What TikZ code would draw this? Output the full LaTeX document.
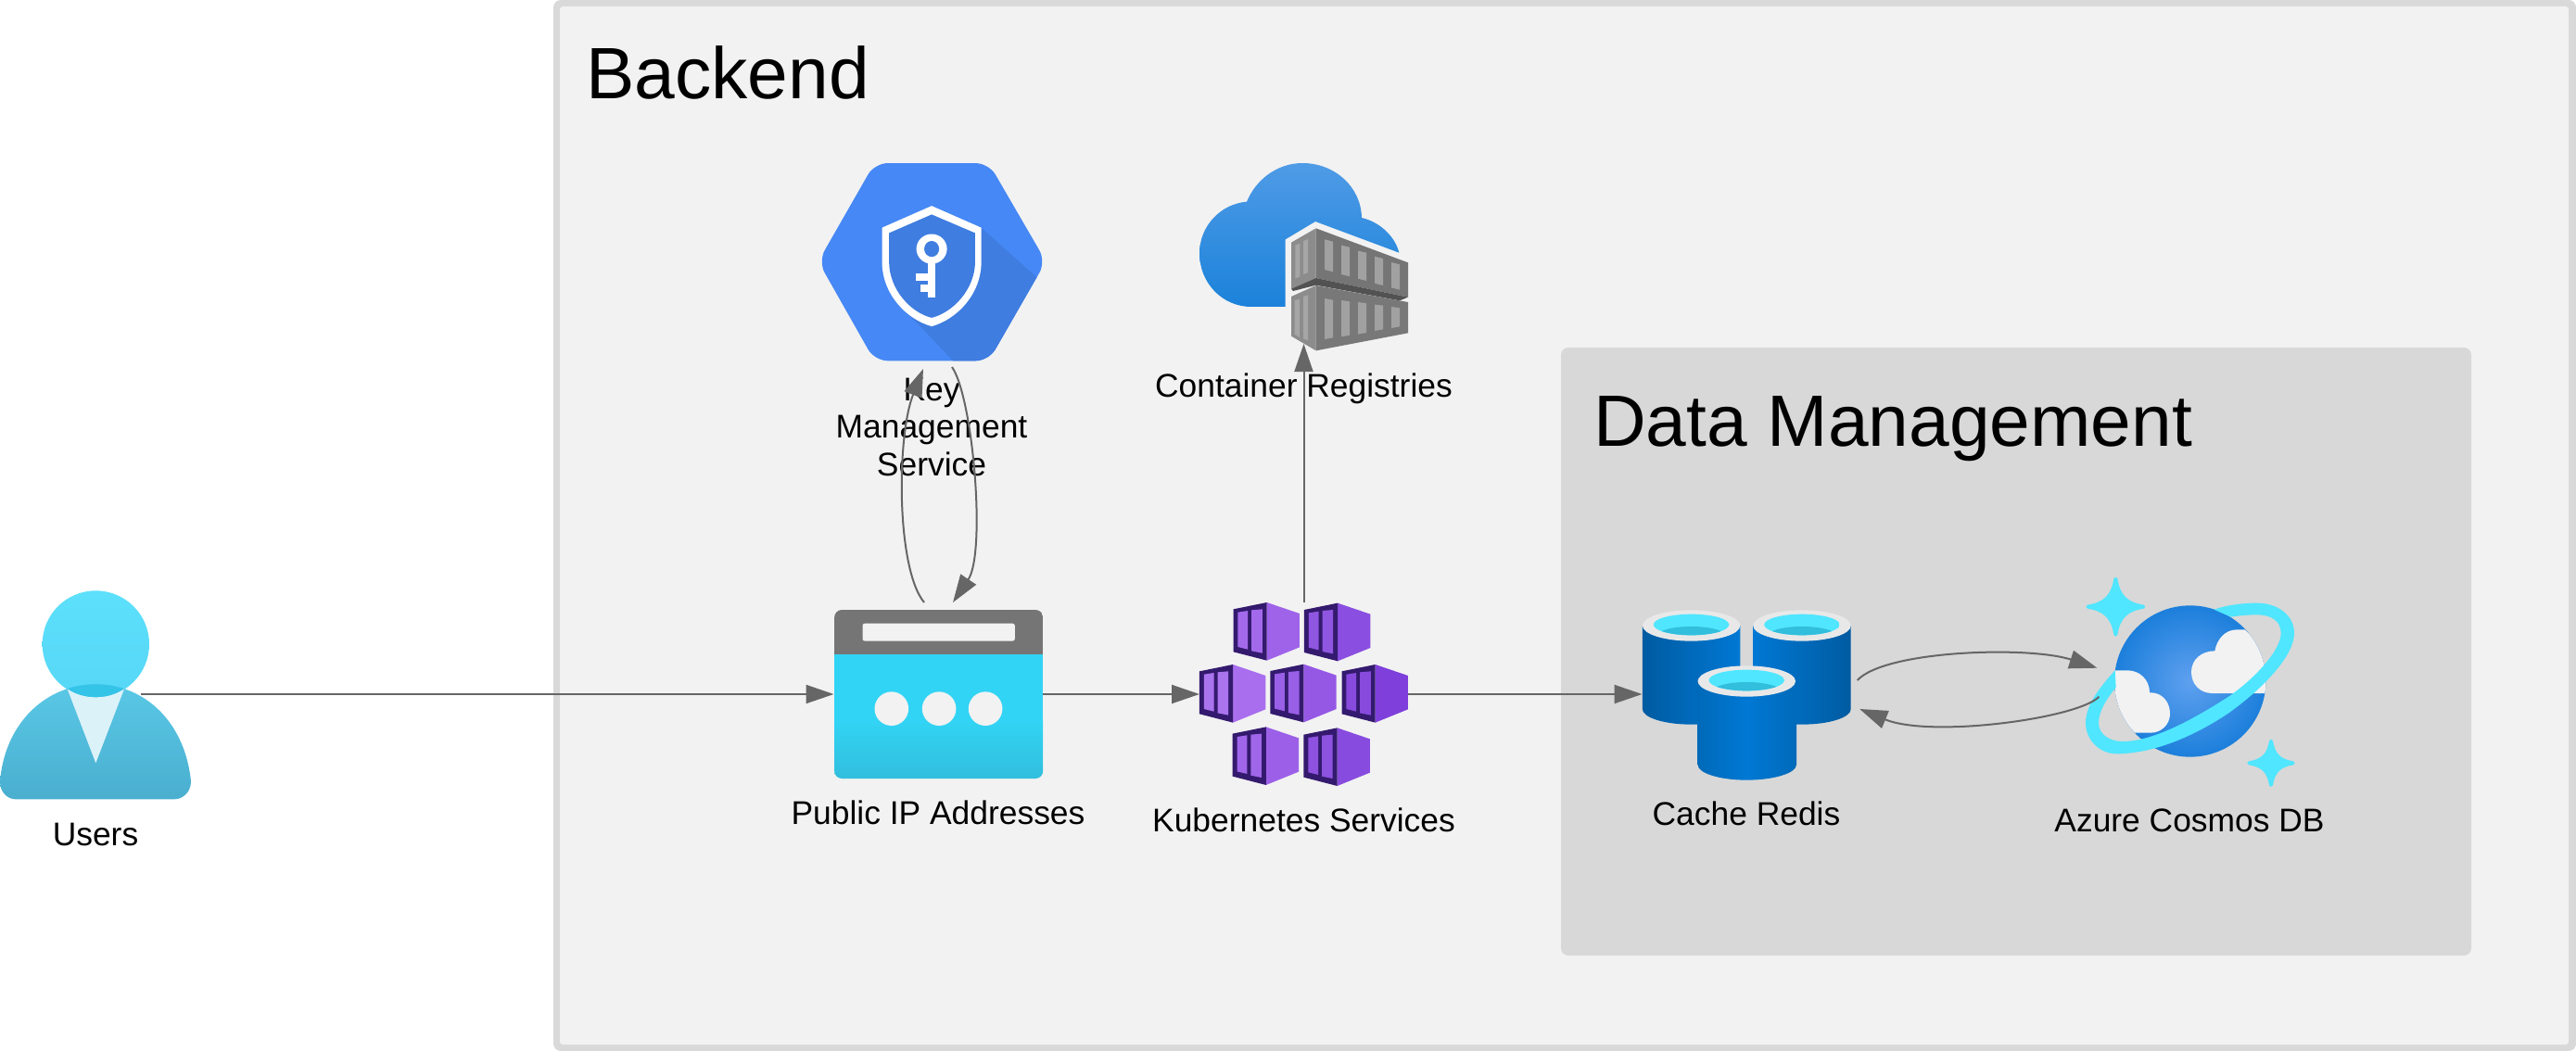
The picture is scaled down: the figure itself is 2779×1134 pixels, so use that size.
\documentclass[tikz,border=0pt]{standalone}
\usepackage{fontspec}
\setmainfont{Liberation Sans}
\usetikzlibrary{arrows.meta}
\definecolor{framegrey}{HTML}{D9D9D9}
\definecolor{panel}{HTML}{F2F2F2}
\definecolor{databox}{HTML}{D8D8D8}
\definecolor{conn}{HTML}{666666}
\definecolor{kmsblue}{HTML}{4688F5}
\definecolor{kmsdark}{HTML}{3F7DE0}
\definecolor{cubedark}{HTML}{341A6E}
\definecolor{cyanlight}{HTML}{50E6FF}
\definecolor{cyandark}{HTML}{32BEDD}
\definecolor{ipcyan}{HTML}{32D4F5}
\definecolor{headtop}{HTML}{5CE0FB}
\definecolor{headbot}{HTML}{56D7F6}
\definecolor{bodytop}{HTML}{5AC8E6}
\definecolor{bodybot}{HTML}{4AAECF}
\definecolor{lens}{HTML}{33C4E8}
\definecolor{tiecol}{HTML}{DCF2F9}
\definecolor{cloudtop}{HTML}{4F9BE6}
\definecolor{cloudbot}{HTML}{1B82DA}
\definecolor{spheremid}{HTML}{5FA0EF}
\definecolor{sphereout}{HTML}{1C7FDB}
\definecolor{redisblue}{HTML}{0078D4}
\definecolor{redisdark}{HTML}{005BA1}
\definecolor{redismid}{HTML}{006AB9}
\definecolor{ringtop}{HTML}{E8E8E8}
\tikzset{
  x=1pt,y=-1pt,
  zoomA/.style={x=0.44643pt,y=-0.35714pt,xshift=860pt,yshift=-150pt},
  zoomB/.style={x=0.44643pt,y=-0.33333pt,xshift=860pt,yshift=-620pt},
  zoomC/.style={x=0.49751pt,y=-0.33333pt,xshift=1740pt,yshift=-600pt},
  zoomU/.style={x=0.33333pt,y=-0.33333pt,xshift=0pt,yshift=-620pt},
  zoomR/.style={x=0.33333pt,y=-0.33333pt,xshift=1270pt,yshift=-170pt},
  zoomK/.style={x=0.33333pt,y=-0.33333pt,xshift=2240pt,yshift=-610pt},
  iconbox/.style={inner sep=0pt,outer sep=0pt,minimum width=#1},
  label/.style={font=\fontsize{35.4}{40.5}\selectfont,text=black,align=center,inner sep=0pt,anchor=base},
  title/.style={font=\fontsize{78.5}{90}\selectfont,text=black,inner sep=0pt,anchor=base west},
  link/.style={draw=conn,line width=2pt,-{Triangle[length=30pt,width=20pt,fill=conn]}},
}
\newcommand{\kcube}[4]{%
  \begin{scope}[shift={(#1,#2)}]
    \fill[#3] (81,0) -- (160,36) -- (160,145) -- (81,188) -- cycle;
    \fill[cubedark] (0,22) -- (81,0) -- (81,188) -- (0,160) -- cycle;
    \fill[#4] (11,32) -- (35,27) -- (35,152) -- (11,144) -- cycle;
    \fill[#4] (44,25) -- (70,22) -- (70,164) -- (44,157) -- cycle;
  \end{scope}}
\newcommand{\rcyl}[4]{%
  \shade[left color=#3,right color=#4]
    (#1-106,225+#2) -- (#1-106,495+#2) .. controls (#1-106,523+#2) and (#1-58,545+#2) .. (#1,545+#2)
    .. controls (#1+58,545+#2) and (#1+106,523+#2) .. (#1+106,495+#2) -- (#1+106,225+#2) -- cycle;
}
\newcommand{\rtop}[2]{%
  \fill[ringtop] (#1,#2) ellipse [x radius=106,y radius=50];
  \begin{scope}
    \clip (#1,#2-3) ellipse [x radius=82,y radius=34];
    \fill[cyanlight] (#1,#2-3) ellipse [x radius=82,y radius=34];
    \fill[cyandark] (#1,#2+37) ellipse [x radius=78,y radius=34];
  \end{scope}}
\newcommand{\sparkle}[4]{%
  \filldraw[fill=cyanlight,draw=cyanlight,line width=4pt,line join=round]
    ({#1},{#2-#4}) .. controls ({#1+.10*#3},{#2-.38*#4}) and ({#1+.38*#3},{#2-.10*#4}) .. ({#1+#3},{#2})
    .. controls ({#1+.38*#3},{#2+.10*#4}) and ({#1+.10*#3},{#2+.38*#4}) .. ({#1},{#2+#4})
    .. controls ({#1-.10*#3},{#2+.38*#4}) and ({#1-.38*#3},{#2+.10*#4}) .. ({#1-#3},{#2})
    .. controls ({#1-.38*#3},{#2-.10*#4}) and ({#1-.10*#3},{#2-.38*#4}) .. cycle;
}
\begin{document}
\begin{tikzpicture}
\useasboundingbox (0,0) rectangle (2779,1134);
\fill[white] (0,0) rectangle (2779,1134);
% frames
\fill[framegrey,rounded corners=8pt] (597,0) rectangle (2779,1134);
\fill[panel,rounded corners=3pt] (604,7) rectangle (2771,1127);
\fill[databox,rounded corners=8pt] (1684,375) rectangle (2666,1031);
\node[title] (backendTitle) at (632,106.7) {Backend};
\node[title] (dataTitle) at (1719,481.7) {Data Management};

% named boxes of the icons
\node[iconbox=206pt,minimum height=225pt] (users) at (103,749.5) {};
\node[iconbox=225pt,minimum height=182pt] (ip) at (1012,749) {};
\node[iconbox=225pt,minimum height=198pt] (k8s) at (1406.5,749) {};
\node[iconbox=225pt,minimum height=195pt] (acr) at (1406.5,273.5) {};
\node[iconbox=225pt,minimum height=184pt] (redis) at (1884,749) {};
\node[iconbox=225pt,minimum height=220pt] (cosmos) at (2362,731) {};
\node[iconbox=240pt,minimum height=216pt] (kms) at (1005,315) {};

% Users icon
\begin{scope}[zoomU]
  \def\bodypath{(0,670) .. controls (15,480) and (150,355) .. (310,355) .. controls (470,355) and (600,480) .. (618,670) .. controls (618,705) and (590,727) .. (565,727) -- (50,727) .. controls (25,727) and (0,705) .. (0,670) -- cycle}
  \shade[top color=headtop,bottom color=headbot] (310,225) circle [radius=173];
  \shade[top color=bodytop,bottom color=bodybot] \bodypath;
  \begin{scope}
    \clip \bodypath;
    \fill[lens] (310,225) circle [radius=173];
    \fill[tiecol] (218,370) .. controls (245,388) and (275,397) .. (310,397) .. controls (345,397) and (375,388) .. (402,370) -- (310,610) -- cycle;
  \end{scope}
\end{scope}

% Key Management Service icon
\begin{scope}[zoomA]
  \def\hexpath{(187,73) -- (463,73) -- (601,370) -- (463,670) -- (187,670) -- (51,370) -- cycle}
  \fill[kmsblue,rounded corners=14pt] \hexpath;
  \begin{scope}
    \clip[rounded corners=14pt] \hexpath;
    \fill[kmsdark] (445,268) -- (590,430) -- (640,800) -- (430,740) -- (270,530) -- (205,400) -- cycle;
  \end{scope}
  \fill[white] (325,202) -- (445,268) -- (445,370) .. controls (445,470) and (385,545) .. (325,566)
     .. controls (265,545) and (205,470) .. (205,370) -- (205,268) -- cycle;
  \fill[kmsdark] (325,228) -- (430,284) -- (430,370) .. controls (430,455) and (375,525) .. (325,540)
     .. controls (275,525) and (222,455) .. (222,370) -- (222,284) -- cycle;
  \fill[white] (325,332) ellipse [x radius=37,y radius=45];
  \fill[kmsdark] (325,332) ellipse [x radius=18,y radius=24];
  \fill[white] (316,370) rectangle (334,480);
  \fill[white] (287,405) rectangle (316,427);
  \fill[white] (298,440) rectangle (316,462);
\end{scope}

% Container Registries icon
\begin{scope}[zoomR]
  \shade[top color=cloudtop,bottom color=cloudbot]
    (350,483) -- (240,483) .. controls (145,483) and (72,405) .. (72,310) .. controls (72,222) and (140,150) .. (225,143)
    .. controls (255,70) and (325,18) .. (405,18) .. controls (510,18) and (595,95) .. (597,195)
    .. controls (655,208) and (705,255) .. (718,308) -- (447,207) -- (350,265) -- cycle;
  % upper container
  \fill[white!55!black] (369,275) -- (449,229) -- (449,390) -- (369,425) -- cycle;
  \fill[white!46!black] (449,229) -- (747,340) -- (747,452) -- (449,390) -- cycle;
  \fill[white!65!black] (382,283) -- (397,279) -- (397,385) -- (382,392) -- cycle;
  \fill[white!65!black] (408,270) -- (423,264) -- (423,372) -- (408,378) -- cycle;
  \fill[white!63!black] (477,265) -- (504,272) -- (504,370) -- (477,363) -- cycle;
  \fill[white!63!black] (531,284) -- (558,290) -- (558,385) -- (531,378) -- cycle;
  \fill[white!63!black] (585,302) -- (612,308) -- (612,399) -- (585,392) -- cycle;
  \fill[white!63!black] (639,320) -- (666,327) -- (666,414) -- (639,407) -- cycle;
  \fill[white!63!black] (693,339) -- (720,346) -- (720,428) -- (693,421) -- cycle;
  \fill[white!32!black] (369,425) -- (449,390) -- (747,452) -- (720,463) -- (449,413) -- (375,432) -- cycle;
  % lower container
  \fill[white!55!black] (369,450) -- (449,414) -- (449,625) -- (369,578) -- cycle;
  \fill[white!47!black] (449,414) -- (747,468) -- (747,568) -- (449,625) -- cycle;
  \fill[white!65!black] (380,462) -- (396,458) -- (396,582) -- (380,572) -- cycle;
  \fill[white!65!black] (408,450) -- (423,445) -- (423,592) -- (408,586) -- cycle;
  \fill[white!63!black] (477,456) -- (504,461) -- (504,583) -- (477,588) -- cycle;
  \fill[white!63!black] (531,462) -- (558,466) -- (558,575) -- (531,580) -- cycle;
  \fill[white!63!black] (585,468) -- (612,472) -- (612,567) -- (585,572) -- cycle;
  \fill[white!63!black] (639,476) -- (666,479) -- (666,556) -- (639,561) -- cycle;
  \fill[white!63!black] (693,483) -- (720,487) -- (720,547) -- (693,552) -- cycle;
\end{scope}

% Public IP icon
\begin{scope}[zoomB]
  \begin{scope}
    \clip[rounded corners=8pt] (90,114) rectangle (594,660);
    \fill[white!46!black] (90,114) rectangle (594,260);
    \fill[ipcyan] (90,258) rectangle (594,470);
    \shade[top color=ipcyan,bottom color=cyandark] (90,469) rectangle (594,660);
  \end{scope}
  \fill[panel,rounded corners=2.5pt] (158,158) rectangle (526,215);
  \fill[panel] (228,434) ellipse [x radius=41,y radius=55];
  \fill[panel] (343,434) ellipse [x radius=41,y radius=55];
  \fill[panel] (455,434) ellipse [x radius=41,y radius=55];
  % Kubernetes icon
  \definecolor{cubeA}{HTML}{9F63EA}
  \definecolor{cubeB}{HTML}{8A4FE0}
  \definecolor{cubeC}{HTML}{A86EEE}
  \definecolor{cubeD}{HTML}{9558E5}
  \definecolor{cubeE}{HTML}{7F3FDB}
  \definecolor{cubeF}{HTML}{9C60E8}
  \definecolor{cubeG}{HTML}{884BDF}
  \kcube{1054}{90}{cubeA}{cubeA!96!white}
  \kcube{1225}{92}{cubeB}{cubeB!96!white}
  \kcube{972}{291}{cubeC}{cubeC!96!white}
  \kcube{1143}{290}{cubeD}{cubeD!96!white}
  \kcube{1316}{291}{cubeE}{cubeE!94!white}
  \kcube{1052}{493}{cubeF}{cubeF!96!white}
  \kcube{1224}{496}{cubeG}{cubeG!96!white}
\end{scope}

% Cache Redis icon
\begin{scope}[zoomC]
  \rcyl{170}{0}{redisdark}{redisblue}
  \rcyl{410}{0}{redisblue}{redisdark}
  \rtop{170}{225}
  \rtop{410}{225}
  \shade[left color=redismid,right color=redismid,middle color=redisblue]
    (184,405) -- (184,675) .. controls (184,703) and (232,725) .. (290,725)
    .. controls (348,725) and (398,703) .. (398,675) -- (398,405) -- cycle;
  \rtop{290}{405}
\end{scope}

% Cosmos icon
\begin{scope}[zoomK]
  \sparkle{127}{134}{90}{90}
  \sparkle{630}{640}{71}{71}
  \def\spherepath{(368,375) circle [radius=245]}
  \shade[inner color=spheremid,outer color=sphereout] \spherepath;
  \begin{scope}
    \clip \spherepath;
    \fill[panel] (520,414) -- (440,414) .. controls (400,414) and (372,385) .. (372,345)
      .. controls (372,305) and (405,277) .. (448,277) .. controls (455,240) and (480,208) .. (520,208)
      -- (545,208) -- (640,300) -- (640,414) -- cycle;
    \fill[panel] (100,340) -- (165,340) .. controls (205,340) and (237,370) .. (237,412)
      .. controls (275,410) and (303,440) .. (303,480) .. controls (303,515) and (275,542) .. (240,542)
      -- (190,542) -- (100,450) -- cycle;
  \end{scope}
  \fill[cyanlight] (445,143) .. controls (500,125) and (550,122) .. (585,122)
    .. controls (650,122) and (705,160) .. (705,220) .. controls (705,290) and (610,395) .. (490,480)
    .. controls (370,560) and (240,610) .. (130,610) .. controls (75,610) and (30,565) .. (30,510)
    .. controls (30,450) and (80,390) .. (125,340) -- (128,395)
    .. controls (95,435) and (72,475) .. (72,510) .. controls (72,545) and (105,570) .. (150,570)
    .. controls (250,570) and (385,495) .. (500,420) .. controls (590,355) and (662,270) .. (662,220)
    .. controls (662,180) and (630,160) .. (585,160) .. controls (560,160) and (530,162) .. (500,167) -- cycle;
\end{scope}

% labels
\node[label] (usersLabel) at (103,912.5) {Users};
\node[label,anchor=north] (kmsLabel) at (1005,407.5) {Key\\Management\\Service};
\node[label] (acrLabel) at (1406.5,428) {Container Registries};
\node[label] (ipLabel) at (1012,889) {Public IP Addresses};
\node[label] (k8sLabel) at (1406.5,897.7) {Kubernetes Services};
\node[label] (redisLabel) at (1884,890.5) {Cache Redis};
\node[label] (cosmosLabel) at (2362,897.5) {Azure Cosmos DB};

% connectors
\coordinate (usersOut) at (152,749);
\coordinate (ipTopOut) at (997,650);
\coordinate (kmsBottomIn) at (996,398);
\coordinate (kmsBottomOut) at (1027,396);
\coordinate (ipTopIn) at (1028,650);
\coordinate (redisOut) at (2003.7,734);
\coordinate (cosmosIn) at (2262.4,720.7);
\coordinate (cosmosOut) at (2264.4,751.7);
\coordinate (redisIn) at (2006.2,765);
\draw[link] (usersOut) -- (usersOut -| ip.west);
\draw[link] (ip.east) -- (k8s.west);
\draw[link] (k8s.east) -- (redis.west);
\draw[link] (k8s.north) -- (acr.south);
\draw[link] (ipTopOut) .. controls (967,614) and (967,471.4) .. (kmsBottomIn);
\draw[link] (kmsBottomOut) .. controls (1049.7,428.6) and (1064,596.4) .. (ipTopIn);
\draw[link] (redisOut) .. controls (2033.5,701.7) and (2187.8,696.7) .. (cosmosIn);
\draw[link] (cosmosOut) .. controls (2242.5,775) and (2083.3,796.7) .. (redisIn);
\end{tikzpicture}
\end{document}
